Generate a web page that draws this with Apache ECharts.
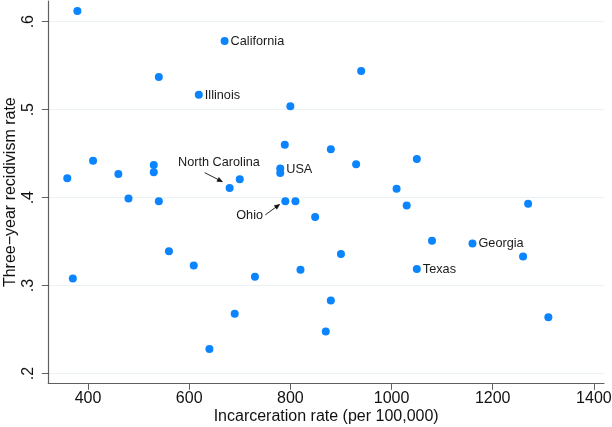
<!DOCTYPE html>
<html>
<head>
<meta charset="utf-8">
<script src="https://cdn.jsdelivr.net/npm/echarts@6/dist/echarts.min.js"></script>
<style>
  html, body { margin: 0; padding: 0; background: #fff; }
  #chart { width: 612px; height: 427px; }
</style>
</head>
<body>
<div id="chart"></div>
<script>
// Incarceration rate (per 100,000) for each state
const incarcerationRate = [
  379, 670, 540, 619, 800, 789, 410, 359, 460, 530,
  530, 480, 540, 680, 700, 780, 780, 790, 810, 940,
  880, 930, 1050, 1010, 1030, 1270, 849, 560, 609, 370,
  730, 820, 690, 640, 1080, 1160, 1260, 1050, 900, 880,
  870, 1310
];
// Three-year recidivism rate for each state
const recidivismRate = [
  0.612, 0.578, 0.537, 0.517, 0.504, 0.460, 0.442, 0.422, 0.427, 0.437,
  0.429, 0.399, 0.396, 0.411, 0.421, 0.433, 0.428, 0.396, 0.396, 0.544,
  0.455, 0.438, 0.444, 0.410, 0.391, 0.393, 0.378, 0.339, 0.323, 0.308,
  0.310, 0.318, 0.268, 0.228, 0.351, 0.348, 0.333, 0.319, 0.336, 0.283,
  0.248, 0.264
];
// Names shown beside selected points (empty = unlabeled)
const pointName = [
  '', 'California', '', 'Illinois', '', '', '', '', '', '',
  '', '', '', 'North Carolina', '', 'USA', '', 'Ohio', '', '',
  '', '', '', '', '', '', '', '', '', '',
  '', '', '', '', '', 'Georgia', '', 'Texas', '', '',
  '', ''
];

const xTicks = [400, 600, 800, 1000, 1200, 1400];
const yTicks = [0.2, 0.3, 0.4, 0.5, 0.6];

const FONT = '"Liberation Sans", Arial, Helvetica, sans-serif';
const DOT = '#0a84ff';
const AXIS = '#5f5f5f';

// Where each name sits relative to its point (pixels); arrow from/to offsets
const labelPlacement = {
  'North Carolina': { dx: -10.7, dy: -25.7, align: 'center', arrow: [[-25, -15.3], [-7.3, -6.3]] },
  'Ohio': { dx: -35.7, dy: 14.7, align: 'center', arrow: [[-20, 13.7], [-5.7, 3.3]] }
};
const defaultPlacement = { dx: 6, dy: 0.5, align: 'left' };

const points = incarcerationRate.map((x, i) => [x, recidivismRate[i]]);
const labeled = [];
pointName.forEach((n, i) => { if (n) labeled.push([incarcerationRate[i], recidivismRate[i], n]); });

function arrowShapes(x1, y1, x2, y2) {
  const ang = Math.atan2(y2 - y1, x2 - x1);
  const len = 5.5, spread = 0.42;
  const a1 = [x2 - len * Math.cos(ang - spread), y2 - len * Math.sin(ang - spread)];
  const a2 = [x2 - len * Math.cos(ang + spread), y2 - len * Math.sin(ang + spread)];
  return [
    { type: 'line', shape: { x1, y1, x2, y2 }, style: { stroke: '#111', lineWidth: 0.9 } },
    { type: 'polygon', shape: { points: [[x2, y2], a1, a2] }, style: { fill: '#111', stroke: '#111', lineWidth: 0.5 } }
  ];
}

const chart = echarts.init(document.getElementById('chart'), null, { renderer: 'canvas' });

chart.setOption({
  animation: false,
  backgroundColor: '#ffffff',
  grid: { left: 48.3, top: 1, width: 555.7, height: 382.3, containLabel: false, outerBoundsMode: 'none' },
  xAxis: {
    type: 'value',
    min: 321.5,
    max: 1420,
    name: 'Incarceration rate (per 100,000)',
    nameLocation: 'middle',
    nameGap: 25,
    nameMoveOverlap: false,
    nameTextStyle: { fontFamily: FONT, fontSize: 16, color: '#111' },
    axisLine: { show: true, lineStyle: { color: AXIS, width: 1.2 } },
    axisTick: { show: true, length: 6.5, customValues: xTicks, lineStyle: { color: AXIS } },
    axisLabel: {
      customValues: xTicks, fontFamily: FONT, fontSize: 16, color: '#111', margin: 7,
      formatter: v => String(v)
    },
    splitLine: { show: false }
  },
  yAxis: {
    type: 'value',
    min: 0.189,
    max: 0.6235,
    name: 'Three\u2212year recidivism rate',
    nameLocation: 'middle',
    nameGap: 30,
    nameMoveOverlap: false,
    nameRotate: 90,
    nameTextStyle: { fontFamily: FONT, fontSize: 16, color: '#111' },
    axisLine: { show: true, lineStyle: { color: AXIS, width: 1.2 } },
    axisTick: { show: true, length: 6.5, customValues: yTicks, lineStyle: { color: AXIS } },
    axisLabel: {
      customValues: yTicks,
      rotate: 90,
      fontFamily: FONT, fontSize: 16, color: '#111', margin: 12,
      formatter: v => String(Math.round(v * 10) / 10).replace(/^0/, '')
    },
    splitLine: { show: true, lineStyle: { color: '#eaf2f3', width: 1.2 } }
  },
  series: [
    {
      type: 'scatter',
      data: points,
      symbol: 'circle',
      symbolSize: 8,
      itemStyle: { color: DOT, opacity: 1 },
      z: 3
    },
    {
      type: 'custom',
      data: labeled,
      z: 4,
      renderItem(params, api) {
        const p = api.coord([api.value(0), api.value(1)]);
        const name = labeled[params.dataIndex][2];
        const cfg = labelPlacement[name] || defaultPlacement;
        const children = [{
          type: 'text',
          x: p[0] + cfg.dx,
          y: p[1] + cfg.dy,
          style: {
            text: name, fontFamily: FONT, fontSize: 12.7, fill: '#1a1a1a',
            align: cfg.align, verticalAlign: 'middle'
          }
        }];
        if (cfg.arrow) {
          const [s, e] = cfg.arrow;
          children.push(...arrowShapes(p[0] + s[0], p[1] + s[1], p[0] + e[0], p[1] + e[1]));
        }
        return { type: 'group', children };
      }
    }
  ]
});
</script>
</body>
</html>
